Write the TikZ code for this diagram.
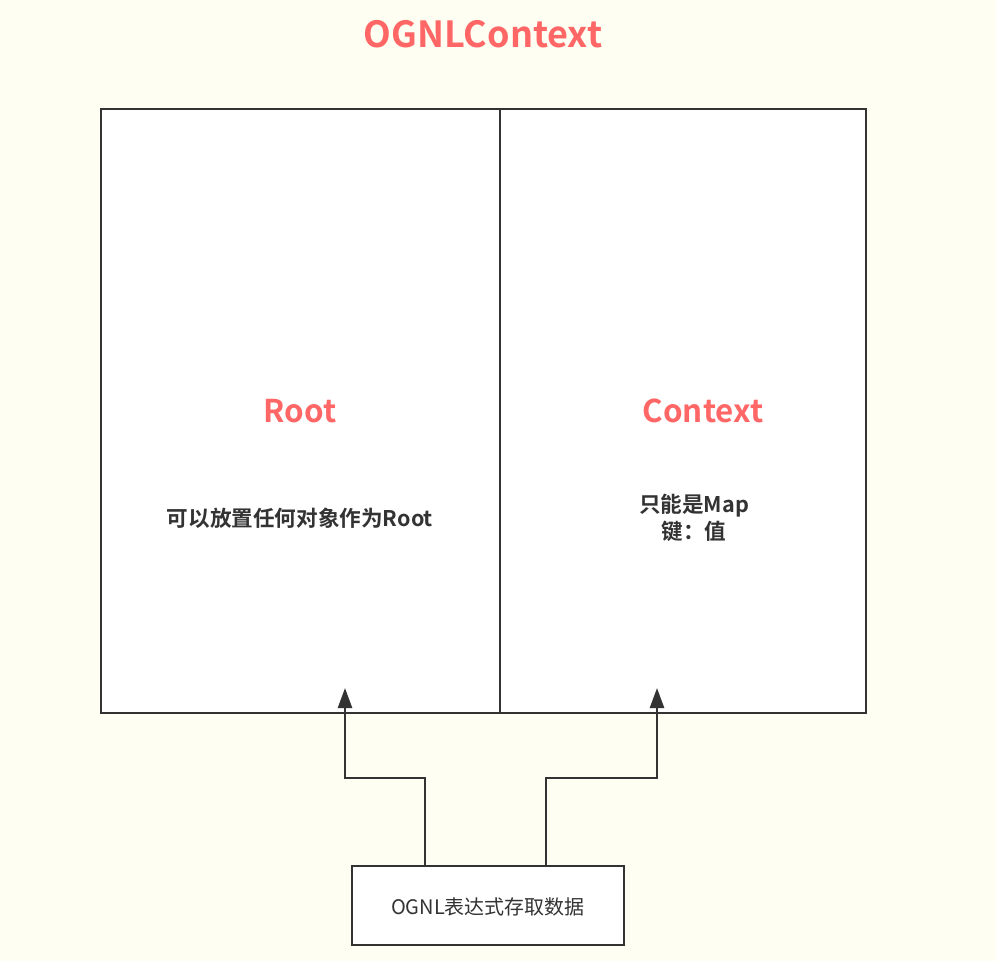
\documentclass[tikz,border=0pt]{standalone}
\usepackage{fontspec}
\setmainfont{Noto Sans CJK SC}
\newfontfamily\cjkb{Noto Sans CJK SC Bold}
\usetikzlibrary{arrows.meta}
\definecolor{bgc}{HTML}{FEFEF2}
\definecolor{redc}{HTML}{FF6666}
\definecolor{linec}{HTML}{333333}
\tikzset{
  box/.style={draw=linec, line width=1.9pt, fill=white},
  conn/.style={draw=linec, line width=1.9pt, -{Triangle[length=15pt,width=10.5pt]}},
  redtitle/.style={text=redc, font=\cjkb\fontsize{27}{32}\selectfont},
  redlabel/.style={text=redc, font=\cjkb\fontsize{23.5}{28}\selectfont},
  desc/.style={text=linec, font=\cjkb\fontsize{16.2}{20}\selectfont, align=center},
  plain/.style={text=linec, font=\fontsize{15}{18}\selectfont}
}
\begin{document}
\begin{tikzpicture}[x=0.75pt,y=-0.75pt]
\fill[bgc] (0,0) rectangle (996,961);
\useasboundingbox (0,0) rectangle (996,961);
\node[redtitle] (title) at (483,34) {OGNLContext};
\draw[box] (101,109) rectangle (866,713);
\draw[linec, line width=1.9pt] (500,109) -- (500,713);
\node[redlabel] (root) at (300,411) {Root};
\node[redlabel] (context) at (703,411) {Context};
\node[desc] (rootdesc) at (300,518) {可以放置任何对象作为Root};
\node[desc] (ctxdesc) at (694,518) {只能是Map\\键：值};
\node[box, minimum width=204pt, minimum height=59.25pt, inner sep=0pt] (ognl) at (488,905.5) {};
\node[plain] (ognltext) at (488,907) {OGNL表达式存取数据};
\coordinate (lt) at (345,688);
\coordinate (rt) at (657,688);
\draw[conn] (ognl.north -| 425,0) |- (345,778) -- (lt);
\draw[conn] (ognl.north -| 546,0) |- (657,778) -- (rt);
\end{tikzpicture}
\end{document}
